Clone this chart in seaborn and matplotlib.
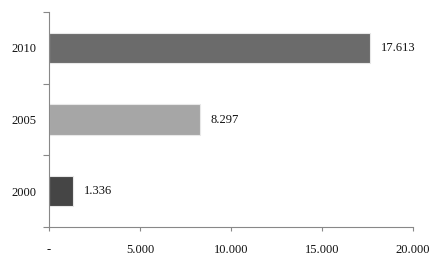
import matplotlib
matplotlib.use("Agg")
import matplotlib.pyplot as plt
import seaborn as sns
import pandas as pd
from matplotlib.ticker import FuncFormatter, FixedLocator

years = ["2010", "2005", "2000"]
values = [17613, 8297, 1336]
colors = ["#6b6b6b", "#a6a6a6", "#454545"]
x_ticks = [0, 5000, 10000, 15000, 20000]

sns.set_theme(style="white")
plt.rcParams["font.family"] = ["Liberation Serif", "DejaVu Serif"]

df = pd.DataFrame({"year": years, "value": values})

fig = plt.figure(figsize=(4.37, 2.61), dpi=100)
ax = fig.add_axes([49/437, 1-227/261, (413-49)/437, (227-12)/261])

sns.barplot(data=df, x="value", y="year", hue="year", order=years,
            palette=dict(zip(years, colors)), width=0.42, legend=False,
            edgecolor="#e8e8e8", linewidth=0.8, ax=ax, orient="h")

def fmt(v):
    return "-" if v == 0 else f"{int(v):,}".replace(",", ".")

FS = 9
for i, v in enumerate(values):
    ax.text(v + 600, i, fmt(v), va="center", ha="left", fontsize=FS, color="#111111")

ax.set_xlim(0, 20000)
ax.set_ylim(2.5, -0.5)
ax.xaxis.set_major_locator(FixedLocator(x_ticks))
ax.xaxis.set_major_formatter(FuncFormatter(lambda v, p: fmt(v)))
ax.set_yticks(range(len(years)))
ax.set_yticklabels(years)
ax.yaxis.set_minor_locator(FixedLocator([-0.5, 0.5, 1.5, 2.5]))
ax.tick_params(axis="y", which="major", length=0, pad=9, labelsize=FS, labelcolor="#111111")
ax.tick_params(axis="y", which="minor", left=True, length=4, width=0.8, color="#888888")
ax.tick_params(axis="x", which="major", bottom=True, length=3, width=0.8, color="#888888",
               pad=9, labelsize=FS, labelcolor="#111111")
ax.set_xlabel("")
ax.set_ylabel("")
for s in ["top", "right"]:
    ax.spines[s].set_visible(False)
for s in ["left", "bottom"]:
    ax.spines[s].set_color("#888888")
    ax.spines[s].set_linewidth(0.8)

fig.savefig("out.png", dpi=100)
